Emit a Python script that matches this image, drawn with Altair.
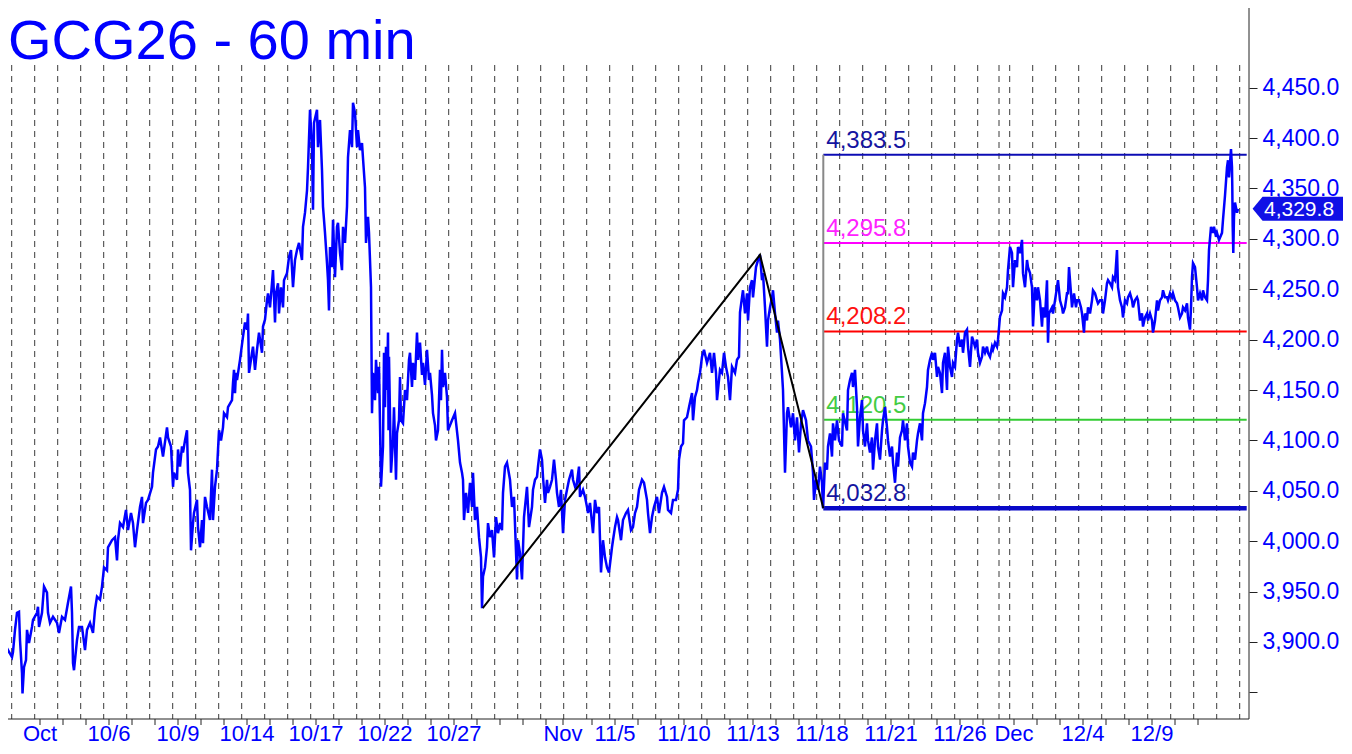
import altair as alt
import pandas as pd

# ---------------- data ----------------
hour_index = [
    2, 3, 5, 8, 12, 13, 15, 17, 19, 20, 22, 22.5, 24, 26, 27, 29, 32, 33, 37, 38, 39, 42, 44, 47, 48, 50,
    53, 57, 59, 62, 65, 68, 71, 72, 73, 74, 77, 79, 82, 85, 87, 90, 93, 95, 97, 100, 102, 104, 107, 108,
    112, 115, 117, 118, 120, 123, 126, 128, 131, 133, 135, 137, 140, 142, 143, 146, 148, 152, 153, 156,
    158, 160, 163, 167, 168, 171, 173, 174, 177, 178, 180, 182, 183, 185, 187, 188, 190, 191, 193, 194,
    197, 198, 200, 202, 203, 205, 207, 210, 212, 213, 215, 217, 219, 221, 223, 224, 227, 228, 232, 233,
    234, 235, 236, 237, 240, 243, 245, 247, 248, 249, 252, 253, 255, 257, 259, 262, 263, 265, 267, 268,
    270, 272, 273, 275, 276, 278, 279, 281, 283, 284, 287, 289, 291, 293, 295, 297, 299, 302, 303, 305,
    307, 308, 310, 312, 313, 314, 317, 318, 320, 322, 323, 325, 327, 328, 329, 330, 332, 333, 335, 337,
    338, 340, 342, 343, 345, 347, 348, 350, 352, 353, 355, 357, 358, 360, 362, 363, 365, 366, 368, 369,
    371, 372, 373, 375, 376, 378, 379, 380, 381, 383, 384, 385, 386, 387, 388, 388.5, 389, 391, 393, 394,
    396, 397, 399,
    400, 401, 403, 405, 407, 409, 410, 412, 413, 415, 417, 418, 420, 422, 423, 425, 427, 429, 430, 432,
    433, 435, 436, 438, 440, 441, 442, 443, 445, 447, 448, 452, 455, 458, 460, 462, 463, 464, 466, 468,
    470, 472, 473, 475, 477, 479, 481, 482, 483, 485, 487, 488, 490, 492, 494, 496, 498, 500, 502, 503,
    505, 507, 510, 512, 514, 517, 518, 520, 522, 524, 527, 529, 532, 533, 535, 537, 538, 540, 542, 543,
    545, 547, 548, 550, 552, 554, 556, 557, 559, 561, 563, 565, 567, 569, 572, 573, 576, 579, 580, 583,
    585, 587, 588, 590, 593, 595, 597, 599, 601, 603, 605, 607, 609, 612, 613, 615, 617, 618, 621, 623,
    626, 628, 631, 633, 635, 637, 639, 642, 644, 647, 648, 650, 652, 654, 657, 659, 662, 664, 667, 668,
    671, 673, 676, 678, 679, 681, 683, 684, 687, 689, 692, 693, 695, 697, 698, 700, 702, 704, 707, 710,
    712, 714, 716, 717, 720, 722, 724, 726, 728, 730, 732, 735, 737, 739, 740, 742, 743, 745, 747, 748,
    750, 752, 753, 756, 758, 760, 762, 763, 765, 767, 768, 770, 772, 773, 775, 777, 778, 780, 782, 783,
    785, 787, 788, 791, 793, 795, 797, 799, 801, 803, 806, 808, 811, 813, 814, 816, 818, 820, 822, 823,
    825, 827, 828, 830, 832, 833, 835, 837, 839, 842, 843, 847, 848, 850, 852, 853, 855, 857, 858, 860,
    862, 863, 865, 867, 868, 870, 872, 873, 875, 877, 878, 880, 882, 883, 885, 887, 888, 890, 892, 893,
    895, 897, 898, 900, 902, 903, 905, 907, 908, 910, 912, 913, 915, 917, 918, 920, 922, 923, 925, 927,
    928, 930, 932, 933, 935, 937, 938, 940, 942, 943, 945, 947, 948, 950, 952, 953, 955, 957, 958, 960,
    962, 963, 965, 967, 968, 970, 972, 973, 975, 977, 978, 980, 982, 983, 985, 987, 988, 990, 992, 993,
    995, 997, 998, 1000, 1002, 1003, 1005, 1007, 1008, 1010, 1012, 1013, 1015, 1017, 1018, 1020, 1022,
    1023, 1025, 1027, 1028, 1030, 1032, 1033, 1035, 1037, 1038, 1040, 1042, 1043, 1045, 1047, 1048, 1049,
    1052, 1053, 1055, 1057, 1058, 1060, 1062, 1063, 1065, 1067, 1068, 1069, 1071, 1072, 1074, 1076, 1077,
    1079, 1081, 1082, 1084, 1085, 1087, 1088, 1090, 1092, 1093, 1095, 1097, 1098, 1100, 1102, 1103, 1105,
    1107, 1108, 1110, 1112, 1113, 1115, 1117, 1118, 1120, 1122, 1123, 1125, 1127, 1128, 1130, 1132, 1133,
    1135, 1137, 1138, 1140, 1142, 1143, 1145, 1147, 1148, 1150, 1152, 1153, 1155, 1157, 1158, 1160, 1162,
    1163, 1165, 1167, 1168, 1170, 1172, 1173, 1175, 1177, 1178, 1180, 1182, 1183, 1185, 1187, 1188, 1190,
    1191, 1192, 1193, 1195, 1197, 1198, 1200, 1202, 1203, 1205, 1207, 1208, 1209, 1211, 1213, 1214, 1216,
    1217, 1219, 1222, 1223, 1225, 1227, 1228, 1229, 1231, 1232, 1232.3, 1232.7, 1233.3, 1234, 1235, 1237,
    1238,
]
price = [
    3872, 3889, 3884, 3892, 3885, 3890, 3912, 3929, 3930, 3902, 3869, 3849, 3875, 3882, 3912, 3899, 3915, 3922, 3929, 3935, 3915, 3929, 3955, 3949, 3929, 3919,
    3925, 3919, 3909, 3925, 3922, 3939, 3955, 3929, 3879, 3872, 3902, 3915, 3915, 3892, 3912, 3919, 3909, 3932, 3945, 3942, 3955, 3974, 3971, 3994,
    4001, 4004, 3981, 4001, 4018, 4014, 4031, 4011, 4028, 4018, 3994, 4011, 4034, 4044, 4018, 4038, 4041, 4054, 4068, 4091,
    4094, 4103, 4084, 4113, 4103, 4094, 4054, 4068, 4061, 4091, 4074, 4094, 4088, 4100, 4110, 4068, 4051, 3991, 4018, 4028,
    4041, 4014, 3994, 4021, 3998, 4044, 4034, 4021, 4071, 4021, 4054, 4071, 4110, 4100, 4113, 4127, 4123, 4133, 4140, 4157,
    4170, 4147, 4167, 4160, 4180, 4203, 4217, 4210, 4226, 4167, 4187, 4193, 4170, 4190, 4207, 4187, 4213, 4220, 4239, 4246,
    4232, 4256, 4269, 4217, 4246, 4256, 4226, 4252, 4232, 4259, 4266, 4282, 4289, 4252, 4279, 4289, 4296, 4279, 4312, 4326,
    4348, 4371, 4428, 4391, 4329, 4415, 4428, 4391, 4418, 4368, 4332, 4306, 4276, 4259, 4229, 4292, 4272, 4319, 4262, 4312,
    4316, 4286, 4269, 4312, 4296, 4332, 4381, 4408, 4391, 4435, 4425, 4391, 4408, 4388, 4395, 4380, 4351, 4296, 4322, 4306,
    4252, 4127, 4167, 4140, 4180, 4147, 4173, 4117, 4054, 4094, 4187, 4133, 4193, 4150, 4207, 4110, 4183, 4068, 4100, 4133,
    4061, 4107, 4120,
    4163, 4120, 4117, 4150, 4140, 4180, 4187, 4153, 4177, 4160, 4207, 4180, 4197, 4165, 4177, 4155, 4190, 4160, 4167, 4145,
    4127, 4115, 4100, 4110, 4170, 4140, 4190, 4153, 4167, 4143, 4110, 4120, 4127, 4100, 4078, 4068, 4061, 4021, 4048, 4028,
    4058, 4034, 4068, 4021, 4034, 4004, 3984, 3933.5, 3965, 3974, 3994, 4018, 4004, 4011, 3984, 4024, 4008, 4018, 4011, 4048,
    4074, 4078, 4061, 4034, 4044, 3962, 4001, 3988, 3962, 4024, 4054, 4014, 4034, 4051, 4061, 4064, 4074, 4091, 4081, 4064,
    4038, 4061, 4048, 4054, 4061, 4081, 4061, 4048, 4034, 4051, 4008, 4041, 4051, 4061, 4071, 4061, 4051, 4074, 4044, 4051,
    4044, 4034, 4028, 4038, 4008, 4041, 4028, 4034, 3969, 4001, 3984, 3974, 3969, 3994, 4001, 4014, 4024, 4021, 4001, 4021,
    4028, 4031, 4011, 4014, 4028, 4034, 4051, 4061, 4058, 4041, 4028, 4008, 4024, 4034, 4044, 4028, 4048, 4054, 4044, 4031,
    4028, 4041, 4041, 4051, 4081, 4094, 4097, 4120, 4123, 4133, 4147, 4120, 4143, 4150, 4157, 4167, 4183, 4190, 4177, 4187,
    4167, 4187, 4167, 4140, 4170, 4167, 4187, 4173, 4163, 4140, 4173, 4167, 4180, 4183, 4227, 4242, 4249, 4226, 4246, 4219,
    4252, 4259, 4242, 4272, 4279, 4284.2, 4259, 4266, 4232, 4193, 4219, 4232, 4242, 4249, 4226, 4207, 4219, 4200, 4167, 4150,
    4068, 4127, 4133, 4113, 4127, 4100, 4123, 4088, 4117, 4130, 4120, 4100, 4094, 4068, 4041, 4061, 4051, 4074, 4058, 4032.8,
    4078, 4071, 4094, 4107, 4084, 4117, 4100, 4120, 4100, 4094, 4127, 4110, 4150, 4160, 4167, 4153, 4170, 4133, 4094, 4123,
    4140, 4110, 4094, 4117, 4100, 4088, 4103, 4071, 4100, 4117, 4094, 4081, 4110, 4120, 4133, 4113, 4100, 4084, 4094, 4078,
    4058, 4088, 4074, 4103, 4110, 4120, 4100, 4117, 4094, 4078, 4074, 4088, 4081, 4100, 4107, 4117, 4100, 4127, 4137, 4153,
    4170, 4180, 4187, 4180, 4187, 4163, 4173, 4167, 4147, 4177, 4187, 4150, 4193, 4173, 4163, 4177, 4173, 4200, 4207, 4193,
    4200, 4187, 4207, 4210, 4193, 4173, 4203, 4200, 4193, 4200, 4187, 4177, 4183, 4193, 4187, 4193, 4187, 4183, 4193, 4190,
    4197, 4193, 4200, 4223, 4229, 4246, 4242, 4252, 4269, 4292, 4286, 4252, 4279, 4272, 4292, 4286, 4299,
    4266, 4252, 4279, 4272, 4266, 4252, 4213, 4252, 4239, 4252, 4239, 4213, 4232, 4222, 4259, 4197, 4226,
    4232, 4226, 4239, 4252, 4259, 4239, 4232, 4226, 4232, 4246, 4246, 4272, 4246, 4232, 4246, 4232, 4239,
    4239, 4232, 4226, 4207, 4226, 4219, 4232, 4226, 4239, 4249, 4246, 4239, 4236, 4239, 4239, 4226, 4239,
    4256, 4259, 4256, 4252, 4262, 4259, 4289, 4252, 4239, 4232, 4222, 4239, 4236, 4242, 4246, 4239, 4232,
    4239, 4242, 4239, 4219, 4226, 4213, 4222, 4226, 4219, 4226, 4219, 4207, 4219, 4239, 4229, 4239, 4242,
    4249, 4242, 4242, 4239, 4246, 4242, 4246, 4239, 4236, 4232, 4222, 4226, 4232, 4229, 4236, 4222, 4210,
    4232, 4262, 4276, 4272, 4252, 4239, 4246, 4239, 4249, 4242, 4239, 4259, 4289, 4312, 4306, 4312, 4302,
    4306, 4299, 4306, 4319, 4343, 4371, 4378, 4361, 4389, 4371, 4351, 4312, 4286, 4322, 4336, 4326,
    4329.8,
]

# session-start gridlines (hour index)
session_starts = [
    11.7, 34.7, 57.7, 80.7, 103.7, 126.7, 149.7, 172.7, 195.7, 218.7, 241.7, 264.7, 287.7, 310.7,
    333.7, 356.7, 379.7, 402.7, 425.7, 448.7, 471.7, 494.7, 517.7, 540.7, 563.7, 586.7, 609.7, 632.7,
    655.7, 678.7, 701.7, 724.7, 747.7, 770.7, 793.7, 816.7, 839.7, 862.7, 885.7, 908.7, 931.7, 954.7,
    977.7, 999, 1009.7, 1032.7, 1055.7, 1078.7, 1101.7, 1124.7, 1147.7, 1170.7, 1193.7, 1216.7, 1239.7,
]

# bottom axis day ticks and labels
day_ticks = [
    40, 63, 86, 109, 132, 155, 178, 201, 224, 247, 270, 293, 316, 339, 362, 385, 408, 431, 454, 477,
    500, 523, 546, 563, 592, 615, 638, 661, 684, 707, 730, 753, 776, 799, 822, 845, 868, 891, 914, 937,
    960, 983, 1014, 1037, 1060, 1083, 1106, 1129, 1152, 1175, 1198,
]
label_ticks = [40, 109, 178, 247, 316, 385, 454, 563, 615, 684, 753, 822, 891, 960, 1014, 1083, 1152]
label_texts = ["Oct", "10/6", "10/9", "10/14", "10/17", "10/22", "10/27", "Nov", "11/5", "11/10",
               "11/13", "11/18", "11/21", "11/26", "Dec", "12/4", "12/9"]

price_ticks = [3850, 3900, 3950, 4000, 4050, 4100, 4150, 4200, 4250, 4300, 4350, 4400, 4450]

# ABC swing and its projected targets
abc_index = [482.7, 760, 823.3]
abc_price = [3933.5, 4284.2, 4032.8]
levels = [4383.5, 4295.8, 4208.2, 4120.5, 4032.8]
level_labels = ["4,383.5", "4,295.8", "4,208.2", "4,120.5", "4,032.8"]
level_colors = ["#0c0cb4", "#ff00ff", "#ff0000", "#33cc33", "#0808c8"]
level_text_colors = ["#1414a0", "#ff22ff", "#ff1010", "#44cc44", "#1414a0"]
level_widths = [2, 2, 2, 2, 4.5]
level_start = 823.3
level_end = 1246.7

last_price = 4329.8
title_text = "GCG26 - 60 min"

# ---------------- chart ----------------
FONT = "Liberation Sans"
BLUE = "#0000ff"
W, H = 1241, 738          # plot area; the day axis is drawn inside its lower strip
AXIS_Y = 711              # pixel row of the day axis inside the plot
xs = alt.Scale(domain=[8, 1249], nice=False, zero=False)
ys = alt.Scale(domain=[3796.8, 4529.1], nice=False, zero=False)

y_axis = alt.Axis(orient="right", values=price_ticks,
                  labelExpr="datum.value < 3875 ? '' : format(datum.value, ',.1f')",
                  title=None, grid=False, domain=False, tickSize=8, tickColor="#222222",
                  labelColor=BLUE, labelFont=FONT, labelFontSize=23, labelPadding=5,
                  labelOverlap=False, labelFlush=False)


def X(field):
    return alt.X(field, scale=xs, axis=None)


def Y(field):
    return alt.Y(field, scale=ys, axis=y_axis)


series = pd.DataFrame({"hour": hour_index, "price": price})
grid_df = pd.DataFrame({"pos": session_starts})
ticks_df = pd.DataFrame({"pos": day_ticks})
labels_df = pd.DataFrame({"pos": label_ticks, "lab": label_texts})
abc_df = pd.DataFrame({"hour": abc_index, "price": abc_price, "o": [0, 1, 2]})
lev_df = pd.DataFrame({
    "level": levels, "label": level_labels, "color": level_colors,
    "tcolor": level_text_colors, "w": level_widths,
    "start": [level_start] * len(levels), "end": [level_end] * len(levels),
})
vert_df = pd.DataFrame({"hour": [level_start], "lo": [levels[-1]], "hi": [levels[0]]})
title_df = pd.DataFrame({"t": [title_text]})
tag_df = pd.DataFrame({"p": [last_price], "lab": [f"{last_price:,.1f}"]})
one = pd.DataFrame({"k": [0]})

grid = alt.Chart(grid_df).mark_rule(color="#3a3a3a", strokeWidth=1, strokeDash=[6, 5]).encode(
    x=X("pos:Q"), y=alt.value(57), y2=alt.value(AXIS_Y),
)
x_domain = alt.Chart(one).mark_rule(color="#222222", strokeWidth=1).encode(
    x=alt.value(0), x2=alt.value(W), y=alt.value(AXIS_Y),
)
y_domain = alt.Chart(one).mark_rule(color="#222222", strokeWidth=1).encode(
    x=alt.value(W), y=alt.value(0), y2=alt.value(AXIS_Y),
)
x_ticks = alt.Chart(ticks_df).mark_rule(color="#222222", strokeWidth=1).encode(
    x=X("pos:Q"), y=alt.value(AXIS_Y), y2=alt.value(AXIS_Y + 6),
)
x_labels = alt.Chart(labels_df).mark_text(align="center", baseline="alphabetic", font=FONT,
                                          fontSize=22, color=BLUE).encode(
    x=X("pos:Q"), y=alt.value(AXIS_Y + 22), text="lab:N",
)

lev_lines = alt.Chart(lev_df).mark_rule().encode(
    x=X("start:Q"), x2="end:Q", y=Y("level:Q"),
    color=alt.Color("color:N", scale=None),
    strokeWidth=alt.StrokeWidth("w:Q", scale=None),
)
lev_text = alt.Chart(lev_df).mark_text(align="left", baseline="alphabetic", dx=3, dy=-7,
                                       font=FONT, fontSize=24).encode(
    x=X("start:Q"), y=Y("level:Q"), text="label:N",
    color=alt.Color("tcolor:N", scale=None),
)
vert = alt.Chart(vert_df).mark_rule(color="#888888", strokeWidth=2).encode(
    x=X("hour:Q"), y=Y("lo:Q"), y2="hi:Q",
)

line = alt.Chart(series).mark_line(color=BLUE, strokeWidth=2.5, clip=True).encode(
    x=X("hour:Q"), y=Y("price:Q"),
)

abc = alt.Chart(abc_df).mark_line(color="black", strokeWidth=2).encode(
    x=X("hour:Q"), y=Y("price:Q"), order="o:Q",
)

title = alt.Chart(title_df).mark_text(align="left", baseline="alphabetic", font=FONT,
                                      fontSize=56, color=BLUE).encode(
    x=alt.value(0), y=alt.value(51), text="t:N",
)

tag_shape = "M -1 0 L -0.78 -0.265 L 1 -0.265 L 1 0.265 L -0.78 0.265 Z"
tag = alt.Chart(tag_df).mark_point(shape=tag_shape, filled=True, color="#1010e6", opacity=1,
                                   size=8172, strokeWidth=0, clip=False).encode(
    x=alt.value(1289.8), y=Y("p:Q"),
)
tag_text = alt.Chart(tag_df).mark_text(align="left", baseline="middle", font=FONT, fontSize=21,
                                       dy=1, color="white", clip=False).encode(
    x=alt.value(1256), y=Y("p:Q"), text="lab:N",
)

chart = alt.layer(
    grid, x_domain, y_domain, x_ticks, x_labels, lev_lines, lev_text, vert, line, abc,
    title, tag, tag_text,
).properties(
    width=W, height=H, background="white",
    autosize=alt.AutoSizeParams(type="none"),
    padding={"left": 0, "top": 0, "right": 95, "bottom": 0},
).configure_view(stroke=None)

chart.save("out.html", embed_options={"renderer": "svg", "actions": False})
